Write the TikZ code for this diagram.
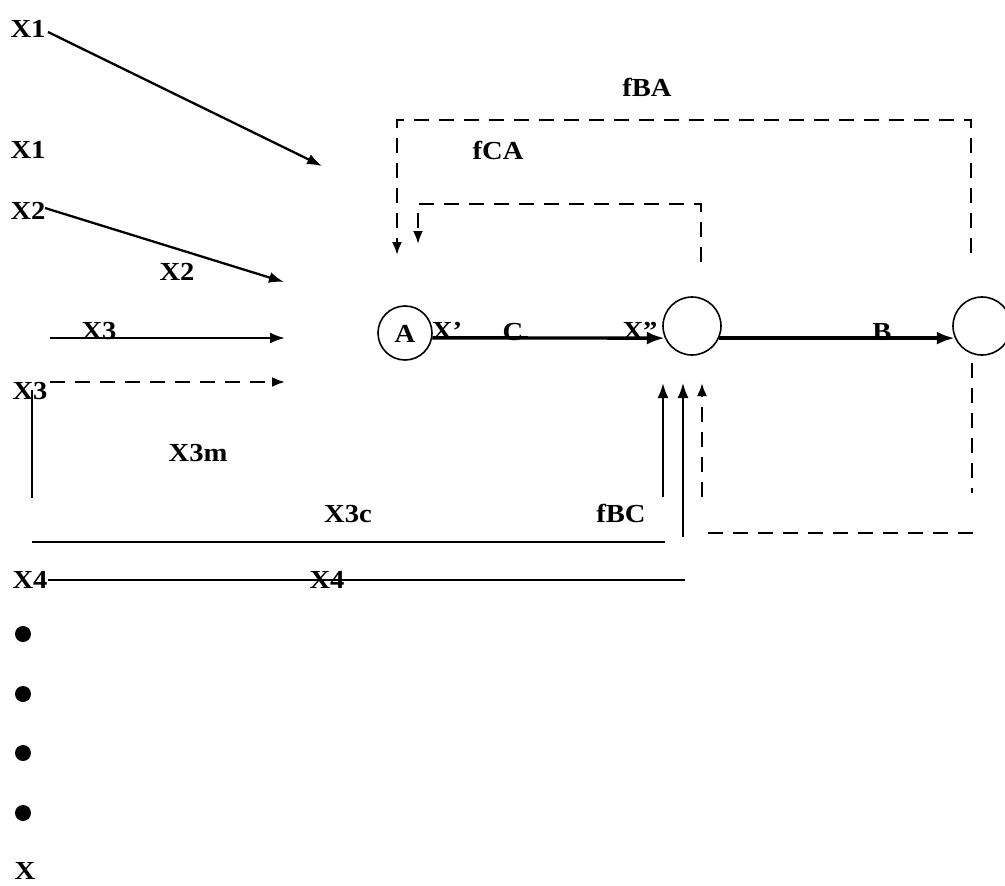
\documentclass[tikz,border=0pt]{standalone}
\usepackage{fontspec}
\setmainfont{Liberation Serif}[FakeStretch=1.1]
\usetikzlibrary{arrows.meta}
\begin{document}
\begin{tikzpicture}[x=1pt,y=-1pt,
  lab/.style={font=\fontsize{26}{30}\selectfont\bfseries, inner sep=0pt},
  ln/.style={line width=2pt},
  arr/.style={line width=2.3pt,-{Latex[length=15pt,width=11pt]}},
  mainarr/.style={line width=3.4pt,-{Latex[length=18pt,width=13pt]}},
  dsh/.style={line width=2.2pt,dash pattern=on 15pt off 10pt},
  dsharr/.style={dsh,-{Latex[length=13pt,width=10pt]}},
  stn/.style={circle,draw,line width=1.6pt,inner sep=0pt},
  dot/.style={circle,fill,minimum size=16pt,inner sep=0pt}]
\useasboundingbox (0,0) rectangle (1005,886);

% left labels
\node[lab] (x1a) at (28,29) {X1};
\node[lab] (x1b) at (28,150) {X1};
\node[lab] (x2a) at (28,211) {X2};
\node[lab] (x2b) at (177,272) {X2};
\node[lab] (x3a) at (99,331) {X3};
\node[lab] (x3b) at (30,391) {X3};
\node[lab] (x3m) at (198,453) {X3m};
\node[lab] (x3c) at (348,514) {X3c};
\node[lab] (x4a) at (30,580) {X4};
\node[lab] (x4b) at (327,580) {X4};
\node[lab] (fbc) at (621,513) {fBC};
\node[lab] (fca) at (498,150) {fCA};
\node[lab] (fba) at (647,87) {fBA};
\node[lab] (xx) at (25,871) {X};

% bullets
\node[dot] (b1) at (23,634) {};
\node[dot] (b2) at (23,694) {};
\node[dot] (b3) at (23,753) {};
\node[dot] (b4) at (23,813) {};

% stations
\node[stn,minimum size=54pt] (A) at (405,333) {};
\node[lab] (Al) at (405,334) {A};
\node[stn,minimum size=58pt] (c2) at (692,326) {};
\node[stn,minimum size=58pt] (c3) at (982,326) {};

% main flow
\draw[mainarr] (A.-10) -- (c2.204);
\draw[mainarr] (c2.-24) -- (c3.204);
\node[lab] (xp) at (447,331) {X'};
\node[lab] (cl) at (513,332) {C};
\node[lab] (xpp) at (640,331) {X''};
\node[lab] (bl) at (882,332) {B};

% input arrows
\coordinate (s1) at (48,32);   \coordinate (e1) at (322,166);
\coordinate (s2) at (45,208);  \coordinate (e2) at (284,282);
\coordinate (s3) at (50,338);  \coordinate (e3) at (285,338);
\coordinate (s3d) at (50,382); \coordinate (e3d) at (285,382);
\draw[arr] (s1) -- (e1);
\draw[arr] (s2) -- (e2);
\draw[arr] (s3) -- (e3);
\draw[dsharr] (s3d) -- (e3d);

% lower routes
\coordinate (v1) at (32,390); \coordinate (v2) at (32,498);
\draw[ln] (v1) -- (v2);
\coordinate (h1) at (32,542); \coordinate (h2) at (665,542);
\draw[ln] (h1) -- (h2);
\coordinate (u1) at (663,497); \coordinate (u1e) at (663,383);
\draw[arr] (u1) -- (u1e);
\coordinate (h3) at (48,580); \coordinate (h4) at (685,580);
\draw[ln] (h3) -- (h4);
\coordinate (u2) at (683,537); \coordinate (u2e) at (683,383);
\draw[arr,line width=1.8pt] (u2) -- (u2e);

% fBC dashed feedback
\coordinate (r1) at (972,363); \coordinate (r2) at (972,493);
\draw[dsh] (r1) -- (r2);
\coordinate (r3) at (973,533); \coordinate (r4) at (702,533);
\draw[dsh] (r3) -- (r4);
\coordinate (u3) at (702,497); \coordinate (u3e) at (702,383);
\draw[dsharr] (u3) -- (u3e);

% fBA dashed feedback
\coordinate (t1) at (971,253); \coordinate (t2) at (971,120);
\coordinate (t3) at (397,120); \coordinate (t4) at (397,255);
\draw[dsharr] (t1) -- (t2) -- (t3) -- (t4);

% fCA dashed feedback
\coordinate (q1) at (701,262); \coordinate (q2) at (701,204);
\coordinate (q3) at (418,204); \coordinate (q4) at (418,244);
\draw[dsharr] (q1) -- (q2) -- (q3) -- (q4);
\end{tikzpicture}
\end{document}
